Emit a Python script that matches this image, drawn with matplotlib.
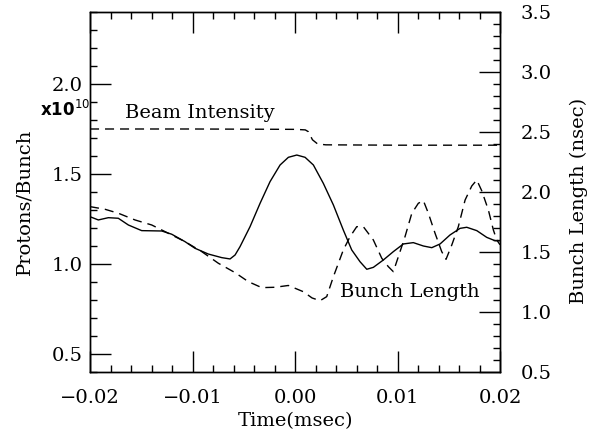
from matplotlib import pyplot as plt
from matplotlib.ticker import MultipleLocator, FuncFormatter
import numpy as np

# temps en msec
t_intensite = [-0.020, -0.010, 0.000, 0.0010, 0.0013, 0.0017, 0.0022, 0.0030, 0.010, 0.020]
intensite = [1.750, 1.750, 1.748, 1.745, 1.735, 1.690, 1.667, 1.662, 1.660, 1.660]  # x10^10

# courbe pleine (en 1e-3 msec, nsec)
t_plein = [-20.0, -19.19, -18.21, -17.24, -16.26, -14.96, -13.0, -12.03, -10.73, -9.76,
           -8.46, -7.15, -6.34, -5.85, -5.37, -4.39, -3.41, -2.44, -1.46, -0.65,
           0.17, 0.98, 1.79, 2.76, 3.74, 4.71, 5.53, 6.34, 7.0, 7.64,
           8.61, 9.59, 10.57, 11.54, 12.52, 13.34, 14.15, 15.12, 16.10, 16.75,
           17.73, 18.70, 19.51, 20.0]
longueur_plein = [1.794, 1.767, 1.786, 1.781, 1.725, 1.678, 1.675, 1.648, 1.586, 1.531,
                  1.483, 1.453, 1.442, 1.475, 1.544, 1.711, 1.906, 2.086, 2.225, 2.289,
                  2.308, 2.289, 2.225, 2.072, 1.892, 1.683, 1.517, 1.419, 1.356, 1.372,
                  1.433, 1.503, 1.567, 1.578, 1.550, 1.536, 1.567, 1.642, 1.697, 1.706,
                  1.678, 1.622, 1.594, 1.594]

# courbe en tirets (bunch length)
t_tirets = [-20.0, -18.54, -17.24, -15.61, -13.98, -12.36, -10.73, -9.10, -7.48, -5.85,
            -4.56, -3.25, -1.95, -0.65, 0.81, 1.66, 2.44, 3.09, 3.74, 4.71,
            5.37, 6.02, 6.66, 7.64, 8.46, 9.10, 9.59, 10.08, 10.73, 11.39,
            12.03, 12.52, 13.01, 13.66, 14.31, 14.73, 15.29, 15.93, 16.59, 17.24,
            17.73, 18.21, 18.86, 19.35, 19.68, 20.0]
longueur_tirets = [1.878, 1.856, 1.823, 1.767, 1.725, 1.656, 1.586, 1.503, 1.406, 1.328,
                   1.253, 1.203, 1.206, 1.221, 1.169, 1.117, 1.094, 1.128, 1.294, 1.517,
                   1.628, 1.711, 1.711, 1.600, 1.448, 1.378, 1.336, 1.461, 1.628, 1.822,
                   1.906, 1.928, 1.822, 1.656, 1.503, 1.439, 1.558, 1.711, 1.933, 2.050,
                   2.100, 2.011, 1.850, 1.683, 1.600, 1.560]

plt.rcParams['font.family'] = 'DejaVu Serif'
plt.rcParams['font.size'] = 14

fig = plt.figure(figsize=(5.97, 4.33), dpi=100)
ax1 = fig.add_axes([0.1508, 0.1409, 0.6868, 0.8314])
ax2 = ax1.twinx()

tirets = (6.5, 4.3)
ax1.plot(t_intensite, intensite, color="black", linewidth=1, dashes=tirets)
ax2.plot(np.array(t_plein) / 1000, longueur_plein, color="black", linewidth=1)
ax2.plot(np.array(t_tirets) / 1000, longueur_tirets, color="black", linewidth=1, dashes=tirets)

ax1.set_xlim(-0.02, 0.02)
ax1.set_ylim(0.4, 2.4)
ax2.set_ylim(0.5, 3.5)

moins = lambda f: FuncFormatter(lambda v, p: (f % v).replace('-', '\u2212'))
ax1.xaxis.set_major_locator(MultipleLocator(0.01))
ax1.xaxis.set_minor_locator(MultipleLocator(0.002))
ax1.xaxis.set_major_formatter(moins('%.2f'))
ax1.yaxis.set_major_locator(MultipleLocator(0.5))
ax1.yaxis.set_minor_locator(MultipleLocator(0.1))
ax1.yaxis.set_major_formatter(moins('%.1f'))
ax2.yaxis.set_major_locator(MultipleLocator(0.5))
ax2.yaxis.set_minor_locator(MultipleLocator(0.1))
ax2.yaxis.set_major_formatter(moins('%.1f'))

ax1.tick_params(which='both', direction='in', top=True, right=False, width=1)
ax1.tick_params(which='major', length=15)
ax1.tick_params(which='minor', length=5)
ax1.tick_params(axis='x', which='major', pad=12)
ax1.tick_params(axis='y', which='major', pad=5)
ax2.tick_params(which='both', direction='in', width=1)
ax2.tick_params(which='major', length=15, pad=15)
ax2.tick_params(which='minor', length=5)

ax1.set_xlabel("Time(msec)", labelpad=4)
ax1.set_ylabel("Protons/Bunch")
ax1.yaxis.set_label_coords(-0.137, 0.472)
ax2.set_ylabel("Bunch Length (nsec)")
ax2.yaxis.set_label_coords(1.171, 0.475)

ax1.text(-0.0166, 1.839, "Beam Intensity", va='center', ha='left')
ax1.text(0.0044, 0.844, "Bunch Length", va='center', ha='left')
ax1.text(-0.122, 0.728, r"x10$^{10}$", transform=ax1.transAxes, va='center', ha='left',
         family='DejaVu Sans', fontweight='bold', fontsize=12)

for a in (ax1, ax2):
    for s in a.spines.values():
        s.set_linewidth(1)

fig.savefig("out.png", dpi=100)
